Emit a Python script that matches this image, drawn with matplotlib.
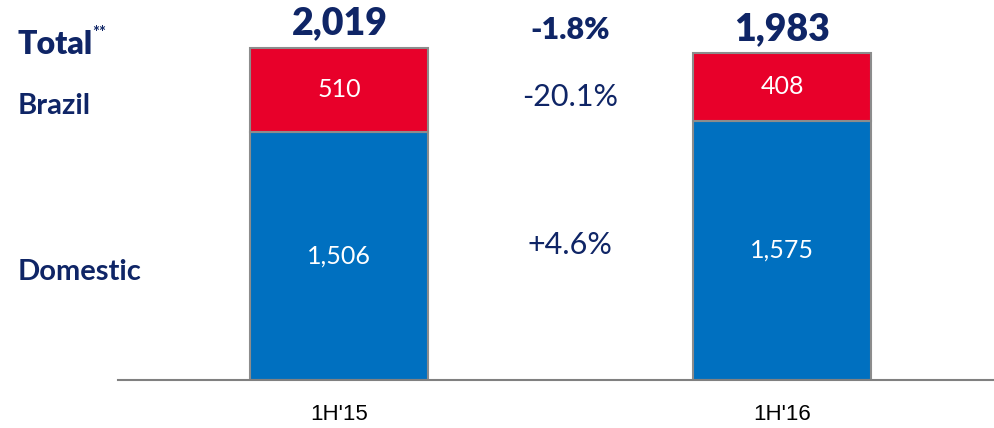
import matplotlib.pyplot as plt

# --- Data ---
periods = ["1H'15", "1H'16"]
domestic = [1506, 1575]
brazil = [510, 408]
totals = [2019, 1983]
changes = ["-1.8%", "-20.1%", "+4.6%"]   # total, brazil, domestic
row_labels = ["Total", "Brazil", "Domestic"]

# --- Style ---
W, H = 995, 428
navy = '#0F2566'
red = '#E8002A'
blue = '#0070C0'
edge = '#8C8C8C'
plt.rcParams['font.family'] = ['Lato', 'DejaVu Sans']

fig = plt.figure(figsize=(W / 100, H / 100), dpi=100)
# axes in pixel terms: left edge 118, baseline at y=380 (from top)
ax = fig.add_axes([118 / W, 1 - 380 / H, (W - 118) / W, 380 / H])

x = range(len(periods))
bw = 0.402
ax.bar(x, domestic, width=bw, color=blue, edgecolor=edge, linewidth=1.5)
ax.bar(x, brazil, width=bw, bottom=domestic, color=red, edgecolor=edge, linewidth=1.5)

for i in x:
    ax.text(i, domestic[i] / 2, f"{domestic[i]:,}", ha='center', va='center',
            color='white', fontsize=18)
    ax.text(i, domestic[i] + brazil[i] / 2, f"{brazil[i]:,}", ha='center', va='center',
            color='white', fontsize=18)
    ax.text(i, totals[i] + 45, f"{totals[i]:,}", ha='center', va='bottom',
            color=navy, fontsize=27, fontweight='heavy')

ax.set_xlim(-0.5, 1.481)
ax.set_ylim(0, 2307)
ax.set_xticks(list(x))
ax.set_xticklabels(periods, fontsize=16, family=['Liberation Sans', 'DejaVu Sans'])
ax.tick_params(axis='x', length=0, pad=17)
ax.set_yticks([])
for s in ['top', 'right', 'left']:
    ax.spines[s].set_visible(False)
ax.spines['bottom'].set_color('#808080')
ax.spines['bottom'].set_linewidth(1.5)

# --- Row labels on the left ---
def px(xp, yp):
    return xp / W, 1 - yp / H

fig.text(*px(18, 44), row_labels[0], ha='left', va='center', color=navy,
         fontsize=23, fontweight='heavy')
fig.text(*px(92, 33), '**', ha='left', va='center', color=navy,
         fontsize=12, fontweight='bold')
fig.text(*px(18, 106), row_labels[1], ha='left', va='center', color=navy,
         fontsize=21, fontweight='bold')
fig.text(*px(18, 272), row_labels[2], ha='left', va='center', color=navy,
         fontsize=21, fontweight='bold')

# --- Change column ---
fig.text(*px(570, 30), changes[0], ha='center', va='center', color=navy,
         fontsize=22, fontweight='heavy')
fig.text(*px(570, 97), changes[1], ha='center', va='center', color=navy,
         fontsize=22)
fig.text(*px(570, 245), changes[2], ha='center', va='center', color=navy,
         fontsize=22)

fig.savefig('out.png', dpi=100)
